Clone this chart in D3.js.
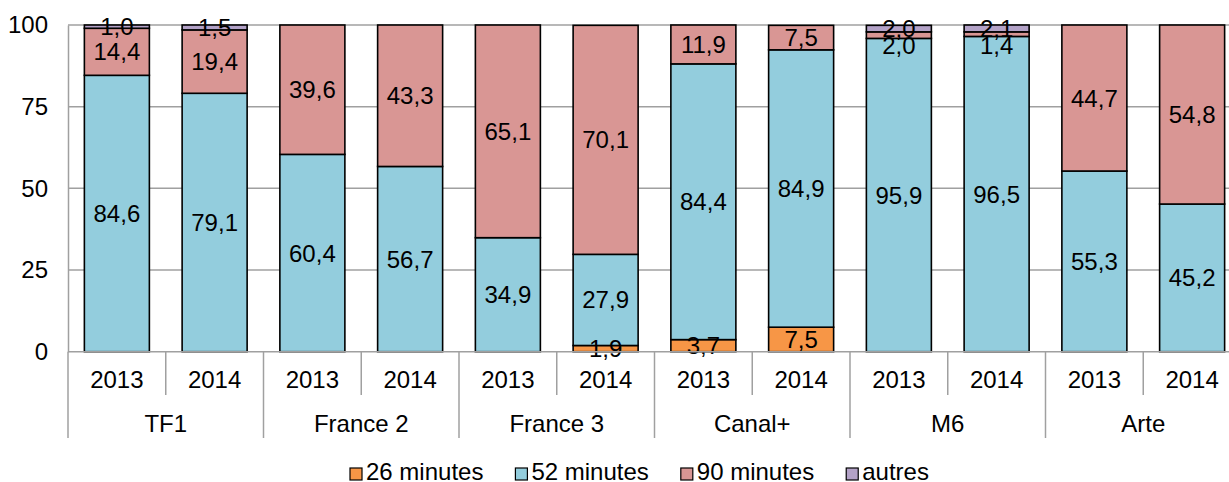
<!DOCTYPE html>
<html>
<head>
<meta charset="utf-8">
<script src="https://cdn.jsdelivr.net/npm/d3@7"></script>
<style>
  body { margin: 0; background: #fff; }
  svg { display: block; font-family: Arial, "Liberation Sans", sans-serif; }
</style>
</head>
<body>
<svg id="chart" width="1229" height="482"></svg>
<script>
// chaines et annees
var channels = ['TF1', 'France 2', 'France 3', 'Canal+', 'M6', 'Arte'];
var years = ['2013', '2014'];
var seriesNames = ['26 minutes', '52 minutes', '90 minutes', 'autres'];
var seriesColors = ['#f79646', '#93cddd', '#d99694', '#b3a2c7'];
var yTicks = [0, 25, 50, 75, 100];

// valeurs par barre (TF1 2013, TF1 2014, France 2 2013, ...)
var min26 = [0, 0, 0, 0, 0, 1.9, 3.7, 7.5, 0, 0, 0, 0];
var min52 = [84.6, 79.1, 60.4, 56.7, 34.9, 27.9, 84.4, 84.9, 95.9, 96.5, 55.3, 45.2];
var min90 = [14.4, 19.4, 39.6, 43.3, 65.1, 70.1, 11.9, 7.5, 2.0, 1.4, 44.7, 54.8];
var autres = [1.0, 1.5, 0, 0, 0, 0, 0, 0, 2.0, 2.1, 0, 0];

var fontSize = 24;
var plotLeft = 68, plotRight = 1241, plotTop = 25, plotBottom = 351.7;

var bars = [];
channels.forEach(function (c, ci) {
  years.forEach(function (yr, yi) {
    var i = ci * 2 + yi;
    bars.push({ key: c + '|' + yr, channel: c, year: yr,
      '26 minutes': min26[i], '52 minutes': min52[i], '90 minutes': min90[i], 'autres': autres[i] });
  });
});

var svg = d3.select('#chart');

var x = d3.scaleBand()
    .domain(bars.map(function (d) { return d.key; }))
    .range([plotLeft, plotRight])
    .paddingInner(0.335)
    .paddingOuter(0.1675);

var y = d3.scaleLinear().domain([0, 100]).range([plotBottom, plotTop]);

var color = d3.scaleOrdinal().domain(seriesNames).range(seriesColors);

// grille
svg.append('g')
  .selectAll('line')
  .data(yTicks.filter(function (t) { return t > 0; }))
  .enter().append('line')
    .attr('x1', plotLeft).attr('x2', plotRight)
    .attr('y1', function (d) { return y(d); })
    .attr('y2', function (d) { return y(d); })
    .attr('stroke', '#a0a0a0')
    .attr('stroke-width', 1.5);

// axe y
var yAxis = svg.append('g')
    .attr('transform', 'translate(' + plotLeft + ',0)')
    .call(d3.axisLeft(y).tickValues(yTicks).tickSize(0).tickPadding(20));
yAxis.select('.domain').attr('stroke', '#a0a0a0').attr('stroke-width', 1.5);
yAxis.selectAll('text')
    .attr('font-size', fontSize)
    .attr('font-family', 'Arial, "Liberation Sans", sans-serif')
    .attr('fill', '#000');

// barres empilees
var stack = d3.stack().keys(seriesNames);
var layers = stack(bars);

var layer = svg.append('g').selectAll('g')
  .data(layers)
  .enter().append('g')
    .attr('fill', function (d) { return color(d.key); });

layer.selectAll('rect')
  .data(function (d) { return d; })
  .enter().append('rect')
    .attr('x', function (d) { return x(d.data.key); })
    .attr('width', x.bandwidth())
    .attr('y', function (d) { return y(d[1]); })
    .attr('height', function (d) { return y(d[0]) - y(d[1]); })
    .attr('stroke', '#000')
    .attr('stroke-width', 1.6);

// etiquettes de valeurs : centre du segment, decale vers le bas si chevauchement
var labels = [];
bars.forEach(function (b, bi) {
  var prevY = -Infinity;
  for (var li = layers.length - 1; li >= 0; li--) {
    var d = layers[li][bi];
    var v = d[1] - d[0];
    if (v <= 0) continue;
    var ly = Math.max(y((d[0] + d[1]) / 2), prevY + 17);
    prevY = ly;
    labels.push({ key: b.key, value: v, y: ly });
  }
});

svg.append('g').selectAll('text')
  .data(labels)
  .enter().append('text')
    .attr('x', function (d) { return x(d.key) + x.bandwidth() / 2; })
    .attr('y', function (d) { return d.y; })
    .attr('text-anchor', 'middle')
    .attr('dominant-baseline', 'central')
    .attr('font-size', fontSize)
    .text(function (d) { return d3.format('.1f')(d.value).replace('.', ','); });

// axe x
svg.append('line')
  .attr('x1', plotLeft).attr('x2', plotRight)
  .attr('y1', plotBottom).attr('y2', plotBottom)
  .attr('stroke', '#a0a0a0').attr('stroke-width', 1.5);

var step = x.step();
var bounds = d3.range(0, bars.length);
svg.append('g').selectAll('line')
  .data(bounds)
  .enter().append('line')
    .attr('x1', function (i) { return plotLeft + i * step; })
    .attr('x2', function (i) { return plotLeft + i * step; })
    .attr('y1', plotBottom)
    .attr('y2', function (i) { return i % 2 === 0 ? 438 : 395; })
    .attr('stroke', '#a0a0a0').attr('stroke-width', 1.5);

svg.append('g').selectAll('text')
  .data(bars)
  .enter().append('text')
    .attr('x', function (d) { return x(d.key) + x.bandwidth() / 2; })
    .attr('y', 388)
    .attr('text-anchor', 'middle')
    .attr('font-size', fontSize)
    .text(function (d) { return d.year; });

svg.append('g').selectAll('text')
  .data(channels)
  .enter().append('text')
    .attr('x', function (c, i) { return plotLeft + (i * 2 + 1) * step; })
    .attr('y', 432)
    .attr('text-anchor', 'middle')
    .attr('font-size', fontSize)
    .text(function (c) { return c; });

// legende
var legend = svg.append('g');
var lx = 350;
seriesNames.forEach(function (s) {
  legend.append('rect')
    .attr('x', lx).attr('y', 468)
    .attr('width', 12).attr('height', 12)
    .attr('fill', color(s))
    .attr('stroke', '#000').attr('stroke-width', 1.2);
  var t = legend.append('text')
    .attr('x', lx + 16).attr('y', 480)
    .attr('font-size', fontSize)
    .text(s);
  lx += 16 + t.node().getComputedTextLength() + 32;
});
</script>
</body>
</html>
